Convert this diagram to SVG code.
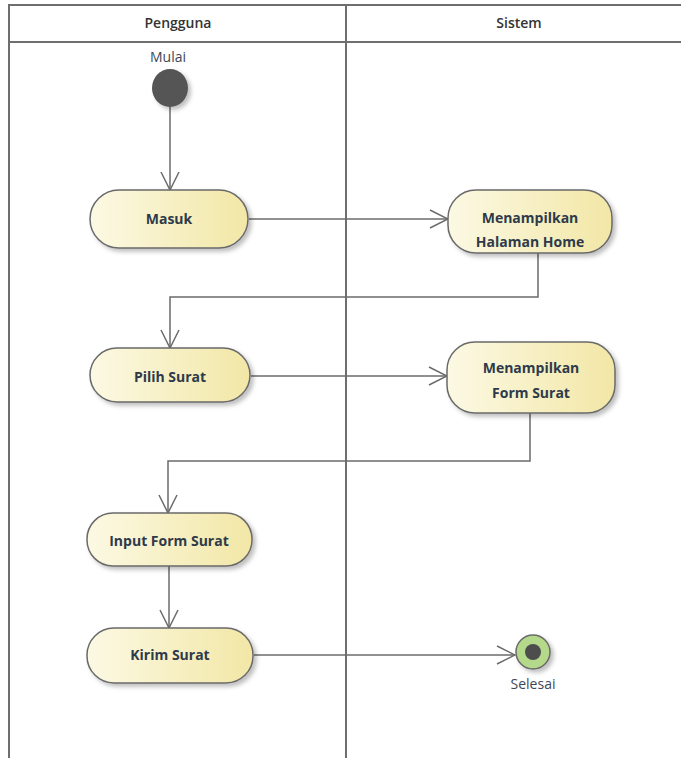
<svg xmlns="http://www.w3.org/2000/svg" width="681" height="758" viewBox="0 0 681 758">
<style>
.lane{fill:none;stroke:#6e6e6e;stroke-width:2}
.hdr{font-family:"Open Sans","Liberation Sans",sans-serif;font-weight:600;font-size:14px;fill:#333;text-anchor:middle}
.act{fill:url(#g);stroke:#6a6a6a;stroke-width:1.5;filter:url(#sh)}
.lbl{font-family:"Open Sans","Liberation Sans",sans-serif;font-weight:700;font-size:14px;fill:#2e3a4a;text-anchor:middle}
.nm{font-family:"Open Sans","Liberation Sans",sans-serif;font-size:14px;fill:#3d4756;text-anchor:middle}
.flow{fill:none;stroke:#6b6b6b;stroke-width:1.5;marker-end:url(#ah)}
</style>
<defs>
<linearGradient id="g" x1="0" y1="0" x2="1" y2="0">
<stop offset="0" stop-color="#fcf9e4"/>
<stop offset="1" stop-color="#f2e7a6"/>
</linearGradient>
<filter id="sh" x="-20%" y="-20%" width="150%" height="160%">
<feDropShadow dx="3" dy="3" stdDeviation="2" flood-color="#000" flood-opacity="0.25"/>
</filter>
<marker id="ah" viewBox="0 0 20 20" refX="19" refY="10" markerWidth="20" markerHeight="20" markerUnits="userSpaceOnUse" orient="auto">
<path d="M1,1 L19,10 L1,19" fill="none" stroke="#6b6b6b" stroke-width="1.5"/>
</marker>
</defs>
<rect x="0" y="0" width="681" height="758" fill="#fff"/>
<g id="lanes">
<rect class="lane" x="9" y="5" width="700" height="800"/>
<line class="lane" x1="9" y1="42" x2="681" y2="42"/>
<line class="lane" x1="346" y1="5" x2="346" y2="758"/>
<text class="hdr" x="178" y="28">Pengguna</text>
<text class="hdr" x="519" y="28">Sistem</text>
</g>
<g id="connectors">
<path class="flow" d="M170,106 L170,190"/>
<path class="flow" d="M249,219 L448,219"/>
<path class="flow" d="M538,253 L538,297 L170,297 L170,348"/>
<path class="flow" d="M251,376 L447,376"/>
<path class="flow" d="M530,413 L530,461 L168,461 L168,513"/>
<path class="flow" d="M169,566 L169,628"/>
<path class="flow" d="M254,655 L515,655"/>
</g>
<g id="start">
<ellipse cx="170" cy="88" rx="18" ry="19" fill="#555" filter="url(#sh)"/>
<text class="nm" x="168" y="62">Mulai</text>
</g>
<g id="masuk">
<rect class="act" x="90" y="190" width="158" height="58" rx="29"/>
<text class="lbl" x="169" y="224">Masuk</text>
</g>
<g id="home">
<rect class="act" x="448" y="190" width="164" height="63" rx="28"/>
<text class="lbl" x="530" y="223">Menampilkan</text>
<text class="lbl" x="530" y="247">Halaman Home</text>
</g>
<g id="pilih">
<rect class="act" x="90" y="348" width="160" height="54" rx="27"/>
<text class="lbl" x="170" y="382">Pilih Surat</text>
</g>
<g id="form">
<rect class="act" x="447" y="342" width="168" height="71" rx="28"/>
<text class="lbl" x="531" y="373">Menampilkan</text>
<text class="lbl" x="531" y="398">Form Surat</text>
</g>
<g id="input">
<rect class="act" x="87" y="513" width="165" height="53" rx="26"/>
<text class="lbl" x="169" y="546">Input Form Surat</text>
</g>
<g id="kirim">
<rect class="act" x="87" y="628" width="166" height="55" rx="27"/>
<text class="lbl" x="170" y="660">Kirim Surat</text>
</g>
<g id="end">
<circle cx="533" cy="652" r="17" fill="#b5d98a" stroke="#6a6a6a" stroke-width="1.5" filter="url(#sh)"/>
<circle cx="533" cy="652" r="8" fill="#4d4d4d"/>
<text class="nm" x="533" y="689">Selesai</text>
</g>
</svg>
